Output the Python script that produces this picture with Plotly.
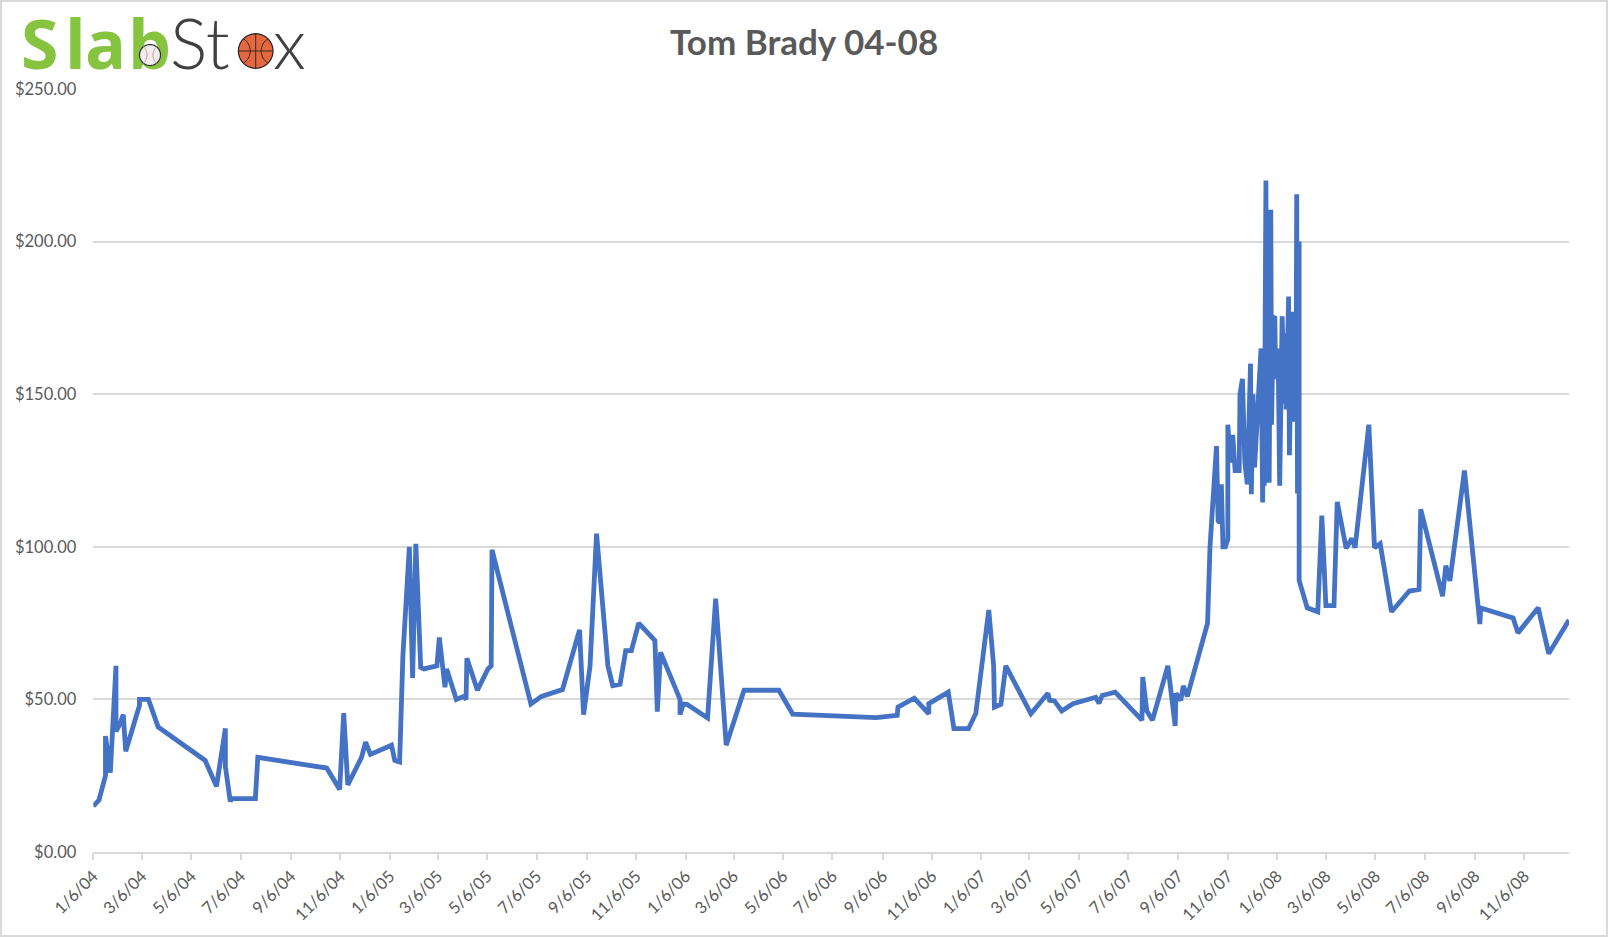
import math
import pandas as pd
import plotly.graph_objects as go

TITLE = "Tom Brady 04-08"
START = "2004-01-06"
END = "2008-12-31"

days_since_start = [
    0, 7, 15, 15, 21, 28, 28, 33, 37, 40, 57, 57, 68, 80, 138, 152, 163, 163, 169, 171,
    200, 203, 288, 304, 309, 314, 331, 336, 342, 368, 372, 378, 382, 390, 394, 398, 404, 408, 424, 427,
    434, 436, 448, 457, 460, 461, 474, 487, 491, 492, 540, 553, 579, 600, 605, 613, 621, 635, 641, 650,
    657, 664, 673, 693, 696, 700, 724, 724, 728, 733, 758, 768, 781, 803, 846, 863, 966, 992, 993, 1013,
    1031, 1031, 1055, 1062, 1080, 1089, 1105, 1111, 1112, 1120, 1126, 1157, 1178, 1180, 1186, 1195, 1209, 1237, 1241, 1245,
    1261, 1294, 1295, 1300, 1307, 1326, 1335, 1336, 1342, 1345, 1350, 1375, 1378, 1386, 1388, 1390, 1392, 1394, 1397, 1400,
    1400, 1403, 1406, 1409, 1414, 1415, 1418, 1421, 1424, 1428, 1429, 1431, 1433, 1435, 1441, 1443, 1444, 1445, 1447, 1448,
    1449, 1450, 1451, 1453, 1454, 1456, 1458, 1459, 1461, 1462, 1464, 1467, 1470, 1471, 1472, 1473, 1475, 1476, 1479, 1480,
    1481, 1482, 1483, 1484, 1485, 1486, 1488, 1488, 1488, 1498, 1511, 1516, 1521, 1531, 1535, 1546, 1553, 1557, 1574, 1581,
    1588, 1602, 1624, 1636, 1638, 1665, 1669, 1674, 1682, 1692, 1711, 1712, 1752, 1758, 1783, 1796, 1821,
]
prices = [
    15, 17, 25, 38, 26, 61, 39.5, 42, 45, 33, 48, 50, 50, 41, 30, 21.5, 40.5, 28, 16.6, 17.5,
    17.5, 31, 27.5, 20.5, 45.5, 22, 31, 36, 32, 35, 30, 29.5, 64, 100, 57, 101, 60.5, 60, 61, 70.3,
    54, 60, 50, 51, 50, 63.5, 53, 60, 61, 99, 48.5, 51, 53.2, 72.8, 45, 61, 104.3, 61, 54.5, 55,
    66, 66, 75, 69.3, 46, 65.4, 50, 45, 48.5, 48.3, 43.9, 83, 35, 53, 53, 45.2, 44, 44.8, 47.5, 50.4,
    45.3, 48.6, 52.4, 40.4, 40.4, 45.4, 79.3, 61, 47.5, 48.4, 61, 45.3, 52, 49.7, 49.5, 46.2, 48.6, 50.7, 48.7, 51.3,
    52.4, 43.2, 57.3, 46.2, 43.2, 61, 41.3, 52, 49.7, 54.4, 51, 75, 100, 133, 108.5, 108, 120.5, 100, 100, 102.5,
    140, 127.6, 136.7, 125, 125, 150, 155, 127.6, 120.5, 160, 117.2, 150, 126, 136.4, 165, 114.5, 155, 120, 220, 140,
    205, 125, 121, 210.4, 140, 175, 175.5, 155, 165, 165, 120, 175.5, 147, 170, 145, 165, 182, 130, 177, 141,
    175, 143, 170, 146, 215.5, 117.5, 200, 117, 89, 80, 78.7, 110.2, 80.7, 80.7, 114.7, 99.5, 102.7, 99.7, 140, 99.7,
    101, 78.7, 85.5, 86, 112.3, 83.8, 93.8, 88.8, 105.5, 125, 74.7, 80, 76.7, 71.8, 80, 65, 76,
]
y_ticks = [0, 50, 100, 150, 200, 250]
y_tick_labels = ["$0.00", "$50.00", "$100.00", "$150.00", "$200.00", "$250.00"]
x_tick_dates = [f"{y}-{m:02d}-06" for y in range(2004, 2009) for m in (1, 3, 5, 7, 9, 11)]
x_tick_labels = [f"{m}/6/{str(y)[2:]}" for y in range(2004, 2009) for m in (1, 3, 5, 7, 9, 11)]

dates = pd.Timestamp(START) + pd.to_timedelta(days_since_start, unit="D")

W, H = 1608, 937
L, R, T, B = 93.3, 1569.0, 89.0, 852.0
LOGO_BOTTOM = 140.0
GRID = "#d9d9d9"
TXT = "#595959"


def px(x):
    return x / R


def py(y):
    return (B - y) / B


def path(points, close=False):
    s = " ".join(("M" if i == 0 else "L") + f"{px(a):.5f},{py(b):.5f}" for i, (a, b) in enumerate(points))
    return s + (" Z" if close else "")


def circle(cx, cy, r):
    return path([(cx + r * math.cos(t * math.pi / 30), cy + r * math.sin(t * math.pi / 30)) for t in range(60)], True)


def arc(cx, cy, r, a0, a1):
    return path([(cx + r * math.cos(math.radians(a0 + (a1 - a0) * i / 16)),
                  cy + r * math.sin(math.radians(a0 + (a1 - a0) * i / 16))) for i in range(17)])


def shp(d, line="#222222", w=1.0, fill=None):
    return dict(type="path", xref="paper", yref="paper", path=d, line=dict(color=line, width=w),
                fillcolor=fill or "rgba(0,0,0,0)", layer="above")


fig = go.Figure(go.Scatter(x=dates, y=prices, mode="lines",
                           line=dict(color="#4472c4", width=4.8, shape="linear"),
                           hoverinfo="x+y", showlegend=False))


def logo_text(txt, x, y, family, size, color, weight):
    fig.add_trace(go.Scatter(x=[x], y=[y], xaxis="x2", yaxis="y2", mode="text", text=[txt],
                             textposition="middle right", cliponaxis=False, hoverinfo="skip", showlegend=False,
                             textfont=dict(family=family, size=size, color=color, weight=weight)))


for letter, lx in (("S", 21), ("l", 65), ("a", 85), ("b", 128)):
    logo_text(letter, lx, 52, "Open Sans", 68, "#86c440", 700)
logo_text("St", 170, 51, "Lato", 70, "#404040", 300)
logo_text("x", 273, 51, "Lato", 70, "#404040", 300)

# Logo geometry
BB = (150.0, 55.0, 10.5)
BK = (255.7, 51.0, 17.3)
shapes = [
    dict(type="rect", xref="paper", yref="paper", x0=px(1), x1=px(W - 1), y0=py(H - 1), y1=py(1),
         line=dict(color=GRID, width=2), layer="below"),
    shp(circle(*BB), "#2f2f2f", 1.2, "#eeeeee"),
    shp(arc(BB[0] - 14, BB[1], 11, -50, 50), "#e58a8a", 1),
    shp(arc(BB[0] + 14, BB[1], 11, 130, 230), "#e58a8a", 1),
    shp(circle(*BK), "#222222", 1.2, "#e4673f"),
    shp(path([(BK[0] - BK[2], BK[1]), (BK[0] + BK[2], BK[1])]), "#3a2a20", 1),
    shp(path([(BK[0], BK[1] - BK[2]), (BK[0], BK[1] + BK[2])]), "#3a2a20", 1),
    shp(arc(BK[0] - 20, BK[1], 14.5, -58, 58), "#3a2a20", 1),
    shp(arc(BK[0] + 20, BK[1], 14.5, 122, 238), "#3a2a20", 1),
]

annotations = [
    dict(text=f"<b>{TITLE}</b>", x=px(804), y=py(41), xref="paper", yref="paper", showarrow=False,
         xanchor="center", yanchor="middle", font=dict(family="Lato, Open Sans", size=35, color=TXT)),
]

fig.update_layout(
    width=W, height=H, autosize=False,
    margin=dict(l=0, r=W - R, t=0, b=H - B, pad=0, autoexpand=False),
    paper_bgcolor="white", plot_bgcolor="rgba(0,0,0,0)",
    shapes=shapes, annotations=annotations,
    font=dict(family="Lato", color=TXT, size=16),
    xaxis=dict(type="date", range=[START, END], domain=[L / R, 1], tickmode="array", tickvals=x_tick_dates,
               ticktext=x_tick_labels, anchor="y",
               tickangle=-45, ticks="outside", ticklen=6, tickwidth=2, tickcolor=GRID,
               showline=True, linecolor=GRID, linewidth=2, showgrid=False, zeroline=False,
               tickfont=dict(family="Lato", size=16.5, color=TXT)),
    yaxis=dict(range=[0, 250], domain=[0, (B - T) / B], tickmode="array", tickvals=y_ticks, ticktext=y_tick_labels,
               anchor="x", showgrid=True, gridcolor=GRID, gridwidth=2, showline=False, zeroline=False,
               ticks="", ticklabelstandoff=16,
               tickfont=dict(family="Lato", size=16.5, color=TXT)),
    xaxis2=dict(range=[0, R], domain=[0, 1], anchor="y2", visible=False, fixedrange=True),
    yaxis2=dict(range=[LOGO_BOTTOM, 0], domain=[(B - LOGO_BOTTOM) / B, 1], anchor="x2", visible=False, fixedrange=True),
)

fig.write_html("out.html", config=dict(displayModeBar=False), post_script="document.body.style.margin='0';")
